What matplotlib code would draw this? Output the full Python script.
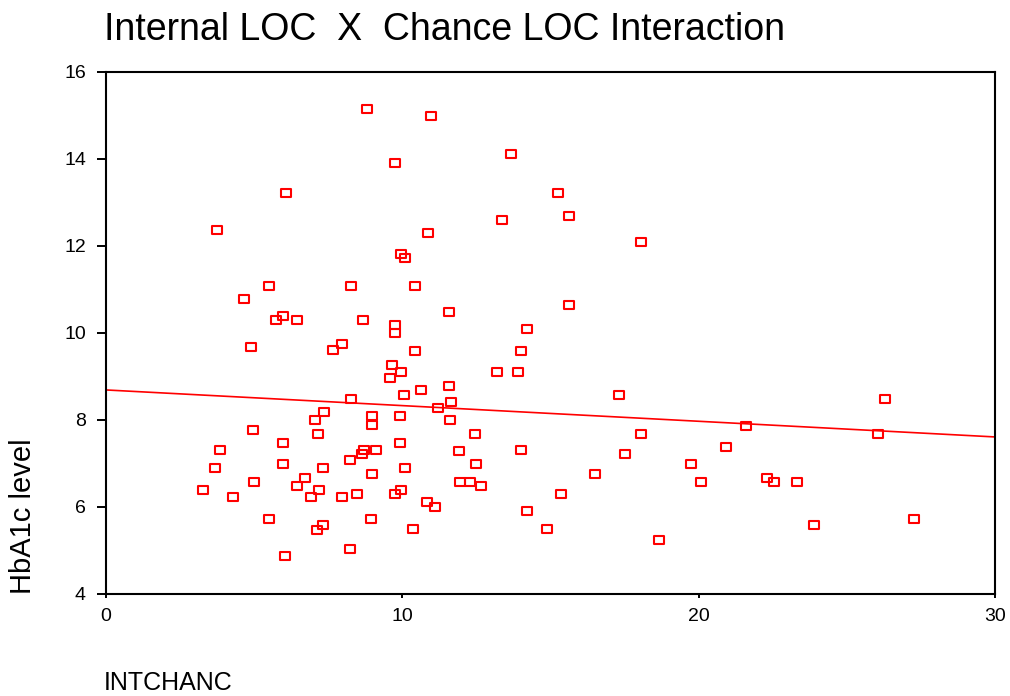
import matplotlib
matplotlib.use('Agg')
import matplotlib.pyplot as plt
from matplotlib.path import Path
import numpy as np

# ===== Data =====
intchanc = [8.82, 10.98, 13.68, 9.76, 6.08, 15.24, 13.38, 15.61, 3.75, 10.88,
            18.07, 9.97, 10.10, 5.51, 8.28, 10.44, 4.66, 15.61, 11.59, 5.98,
            5.74, 6.45, 8.68, 9.76, 9.76, 14.22, 4.90, 7.97, 7.67, 10.44,
            13.99, 9.66, 9.59, 9.97, 13.21, 13.92, 10.07, 10.64, 11.59, 17.30,
            26.28, 8.28, 11.66, 7.36, 8.99, 9.93, 11.22, 7.06, 11.62, 21.59,
            8.99, 4.97, 7.16, 12.47, 18.04, 26.05, 5.98, 9.93, 3.85, 8.65,
            8.72, 9.12, 11.93, 13.99, 20.91, 17.50, 8.24, 3.68, 7.33, 10.10,
            12.50, 19.76, 5.98, 6.72, 8.99, 16.49, 22.30, 5.00, 6.45, 7.20,
            11.96, 12.30, 12.67, 20.07, 22.53, 23.31, 3.28, 4.29, 6.93, 7.97,
            8.48, 9.76, 9.97, 10.84, 11.11, 15.37, 14.22, 5.51, 8.95, 27.26,
            7.33, 7.13, 10.37, 14.90, 23.88, 18.65, 8.24, 6.05]
hba1c = [15.15, 14.99, 14.11, 13.91, 13.22, 13.22, 12.60, 12.69, 12.37, 12.30,
         12.09, 11.82, 11.72, 11.08, 11.08, 11.08, 10.78, 10.64, 10.48, 10.39,
         10.30, 10.30, 10.30, 10.18, 10.00, 10.09, 9.68, 9.75, 9.61, 9.59,
         9.59, 9.26, 8.97, 9.10, 9.10, 9.10, 8.57, 8.69, 8.78, 8.57,
         8.48, 8.48, 8.41, 8.18, 8.09, 8.09, 8.28, 8.00, 8.00, 7.86,
         7.89, 7.77, 7.68, 7.68, 7.68, 7.68, 7.47, 7.47, 7.31, 7.22,
         7.31, 7.31, 7.29, 7.31, 7.38, 7.22, 7.08, 6.90, 6.90, 6.90,
         6.99, 6.99, 6.99, 6.67, 6.76, 6.76, 6.67, 6.57, 6.48, 6.39,
         6.57, 6.57, 6.48, 6.57, 6.57, 6.57, 6.39, 6.23, 6.23, 6.23,
         6.30, 6.30, 6.39, 6.11, 6.00, 6.30, 5.91, 5.72, 5.72, 5.72,
         5.59, 5.47, 5.49, 5.49, 5.59, 5.24, 5.03, 4.87]

# fitted line end points
fit_x = [0, 30]
fit_y = [8.69, 7.61]

xticks = [0, 10, 20, 30]
yticks = [4, 6, 8, 10, 12, 14, 16]

plt.rcParams['font.family'] = ['Liberation Sans', 'DejaVu Sans']

fig = plt.figure(figsize=(10.1, 6.96), dpi=100)
ax = fig.add_axes([0.105, 0.1466, 0.880, 0.75])

# hollow rectangle marker (a bit wider than tall)
rect = Path([(-1, -0.78), (1, -0.78), (1, 0.78), (-1, 0.78), (-1, -0.78)],
            [Path.MOVETO, Path.LINETO, Path.LINETO, Path.LINETO, Path.CLOSEPOLY])

ax.plot(intchanc, hba1c, linestyle='none', marker=rect, markersize=7,
        markerfacecolor='none', markeredgecolor='#ff0000', markeredgewidth=1.5)
ax.plot(fit_x, fit_y, color='#ff0000', linewidth=1.2)

ax.set_xlim(0, 30)
ax.set_ylim(4, 16)
ax.set_xticks(xticks)
ax.set_yticks(yticks)
ax.tick_params(axis='y', length=6.5, width=1.4, labelsize=14, pad=8)
ax.tick_params(axis='x', length=3, width=1.4, labelsize=14, pad=7)
for sp in ax.spines.values():
    sp.set_linewidth(1.5)

fig.text(104 / 1010, 1 - 39.5 / 696, 'Internal LOC  X  Chance LOC Interaction',
         fontsize=27, ha='left', va='baseline')
fig.text(23 / 1010, 1 - 594 / 696, 'HbA1c level', rotation=90,
         fontsize=21, ha='center', va='bottom')
fig.text(104 / 1010, 1 - 690 / 696, 'INTCHANC', fontsize=18,
         ha='left', va='baseline')

fig.savefig('out.png', dpi=100, facecolor='white')
